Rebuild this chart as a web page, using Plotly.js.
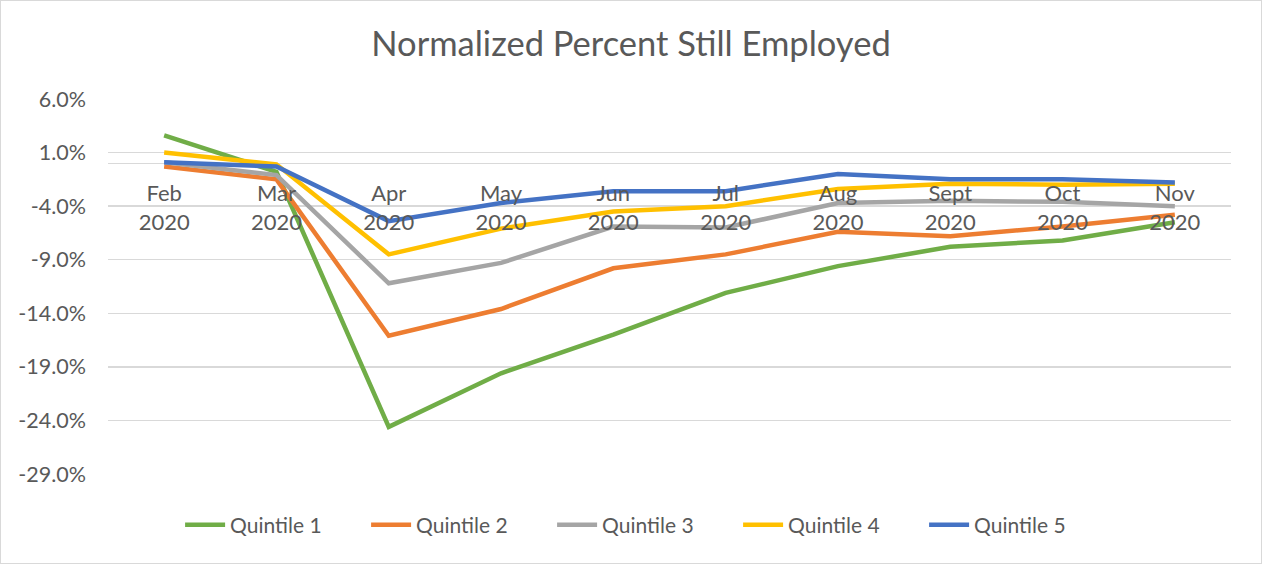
<!DOCTYPE html>
<html>
<head>
<meta charset="utf-8">
<script src="https://cdn.plot.ly/plotly-3.0.1.min.js"></script>
<style>
html,body{margin:0;padding:0;background:#fff;}
#wrap{position:relative;width:1262px;height:564px;}
#chart{width:1262px;height:564px;}
#frame{position:absolute;left:0;top:0;width:1260px;height:562px;border:1px solid #d9d9d9;pointer-events:none;}
</style>
</head>
<body>
<div id="wrap"><div id="chart"></div><div id="frame"></div></div>
<script>
const months = ["Feb<br>2020","Mar<br>2020","Apr<br>2020","May<br>2020","Jun<br>2020","Jul<br>2020","Aug<br>2020","Sept<br>2020","Oct<br>2020","Nov<br>2020"];
const seriesNames = ["Quintile 1","Quintile 2","Quintile 3","Quintile 4","Quintile 5"];
const quintile1 = [2.6, -0.8, -24.6, -19.6, -16.0, -12.1, -9.6, -7.8, -7.2, -5.5];
const quintile2 = [-0.3, -1.5, -16.1, -13.6, -9.8, -8.5, -6.4, -6.8, -5.9, -4.8];
const quintile3 = [0.1, -1.1, -11.2, -9.3, -5.9, -6.0, -3.7, -3.5, -3.6, -4.0];
const quintile4 = [1.0, -0.1, -8.5, -6.1, -4.5, -4.0, -2.4, -1.9, -2.0, -1.9];
const quintile5 = [0.1, -0.3, -5.4, -3.7, -2.6, -2.6, -1.0, -1.5, -1.5, -1.8];
const yTicks = [6, 1, -4, -9, -14, -19, -24, -29];
const colors = ["#70AD47","#ED7D31","#A5A5A5","#FFC000","#4472C4"];

const allSeries = [quintile1, quintile2, quintile3, quintile4, quintile5];
const traces = allSeries.map((vals, i) => ({
  type: 'scatter', mode: 'lines',
  x: months, y: vals, name: seriesNames[i],
  line: {color: colors[i], width: 4.5}
}));

const font = "Lato, 'Open Sans', sans-serif";
const layout = {
  width: 1262, height: 564,
  margin: {l: 108, r: 31, t: 99, b: 90},
  paper_bgcolor: '#fff', plot_bgcolor: '#fff',
  font: {family: font, color: '#595959', size: 21},
  title: {text: 'Normalized Percent Still Employed', font: {family: font, size: 34.5, color: '#595959'}, x: 0.5, xanchor: 'center', y: 0.922, yanchor: 'middle'},
  xaxis: {
    type: 'category', range: [-0.5, 9.5],
    anchor: 'free', position: 29/35,
    showgrid: false, showline: false, ticks: '',
    tickfont: {family: font, size: 22, color: '#595959'},
    ticklabelstandoff: 15,
    fixedrange: true
  },
  yaxis: {
    range: [-29, 6], tickvals: yTicks,
    ticktext: yTicks.map(v => v.toFixed(1) + '%'),
    showgrid: true, gridcolor: '#d9d9d9', gridwidth: 1.5,
    zeroline: true, zerolinecolor: '#d9d9d9', zerolinewidth: 1.5,
    showline: false, ticks: '',
    tickfont: {family: font, size: 21.5, color: '#595959'},
    ticklabelstandoff: 21,
    fixedrange: true
  },
  legend: {orientation: 'h', x: 0.0642, xanchor: 'left', y: -0.136, yanchor: 'middle',
    font: {family: font, size: 21, color: '#595959'}, itemwidth: 40, traceorder: 'normal',
    entrywidth: 131, entrywidthmode: 'pixels'},
  showlegend: true
};
Plotly.newPlot('chart', traces, layout, {displayModeBar: false, staticPlot: true});
</script>
</body>
</html>
